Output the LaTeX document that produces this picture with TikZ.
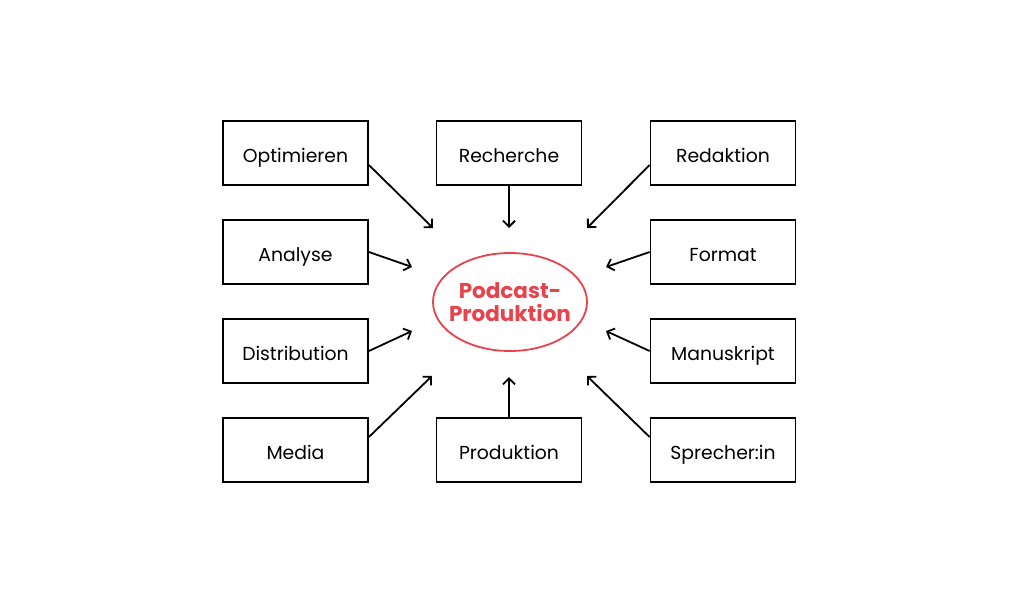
\documentclass[tikz,border=0pt]{standalone}
\usepackage{fontspec}
\setmainfont{Poppins}
\usetikzlibrary{arrows.meta,shapes.geometric}
\definecolor{podred}{HTML}{E8434C}
\begin{document}
\begin{tikzpicture}[x=1pt,y=-1pt,
  box/.style={draw=black,line width=1.8pt,minimum width=145pt,minimum height=64pt,inner sep=0pt,font=\fontsize{18.8}{22}\selectfont},
  lbl/.style={font=\fontsize{18.8}{22}\selectfont,anchor=base},
  arr/.style={line width=1.8pt,-{Straight Barb[length=6pt,width=12pt,line width=1.8pt]}},
  hub/.style={ellipse,draw=podred,line width=1.8pt,minimum width=154pt,minimum height=98pt,inner sep=0pt},
  hubtxt/.style={text=podred,align=center,font=\fontsize{21.5}{23}\selectfont\bfseries}]
\useasboundingbox (0,0) rectangle (1024,614);
\fill[white] (0,0) rectangle (1024,614);
\node[hub] (c) at (510,302) {};
\node[hubtxt] (ct) at (510,302) {Podcast-\\Produktion};
\node[box] (opt) at (295.5,153) {};
\node[box] (rec) at (509,153) {};
\node[box] (red) at (723,153) {};
\node[box] (ana) at (295.5,252) {};
\node[box] (for) at (723,252) {};
\node[box] (dis) at (295.5,351) {};
\node[box] (man) at (723,351) {};
\node[box] (med) at (295.5,450) {};
\node[box] (pro) at (509,450) {};
\node[box] (spr) at (723,450) {};
\node[lbl] (lopt) at ([yshift=-9pt]opt.center) {Optimieren};
\node[lbl] (lrec) at ([yshift=-9pt]rec.center) {Recherche};
\node[lbl] (lred) at ([yshift=-9pt]red.center) {Redaktion};
\node[lbl] (lana) at ([yshift=-9pt]ana.center) {Analyse};
\node[lbl] (lfor) at ([yshift=-9pt]for.center) {Format};
\node[lbl] (ldis) at ([yshift=-9pt]dis.center) {Distribution};
\node[lbl] (lman) at ([yshift=-9pt]man.center) {Manuskript};
\node[lbl] (lmed) at ([yshift=-9pt]med.center) {Media};
\node[lbl] (lpro) at ([yshift=-9pt]pro.center) {Produktion};
\node[lbl] (lspr) at ([yshift=-9pt]spr.center) {Sprecher:in};
\coordinate (tOpt) at (433,228);
\coordinate (tRec) at (509,228);
\coordinate (tRed) at (587,228);
\coordinate (tAna) at (412,267);
\coordinate (tFor) at (606,267);
\coordinate (tDis) at (412,331);
\coordinate (tMan) at (606,331);
\coordinate (tMed) at (432,376);
\coordinate (tPro) at (509,377);
\coordinate (tSpr) at (587,376);
\draw[arr] (opt.east |- 0,165) -- (tOpt);
\draw[arr] (rec.south) -- (tRec);
\draw[arr] (red.west |- 0,165) -- (tRed);
\draw[arr] (ana.east) -- (tAna);
\draw[arr] (for.west) -- (tFor);
\draw[arr] (dis.east) -- (tDis);
\draw[arr] (man.west) -- (tMan);
\draw[arr] (med.east |- 0,437) -- (tMed);
\draw[arr] (pro.north) -- (tPro);
\draw[arr] (spr.west |- 0,437) -- (tSpr);
\end{tikzpicture}
\end{document}
